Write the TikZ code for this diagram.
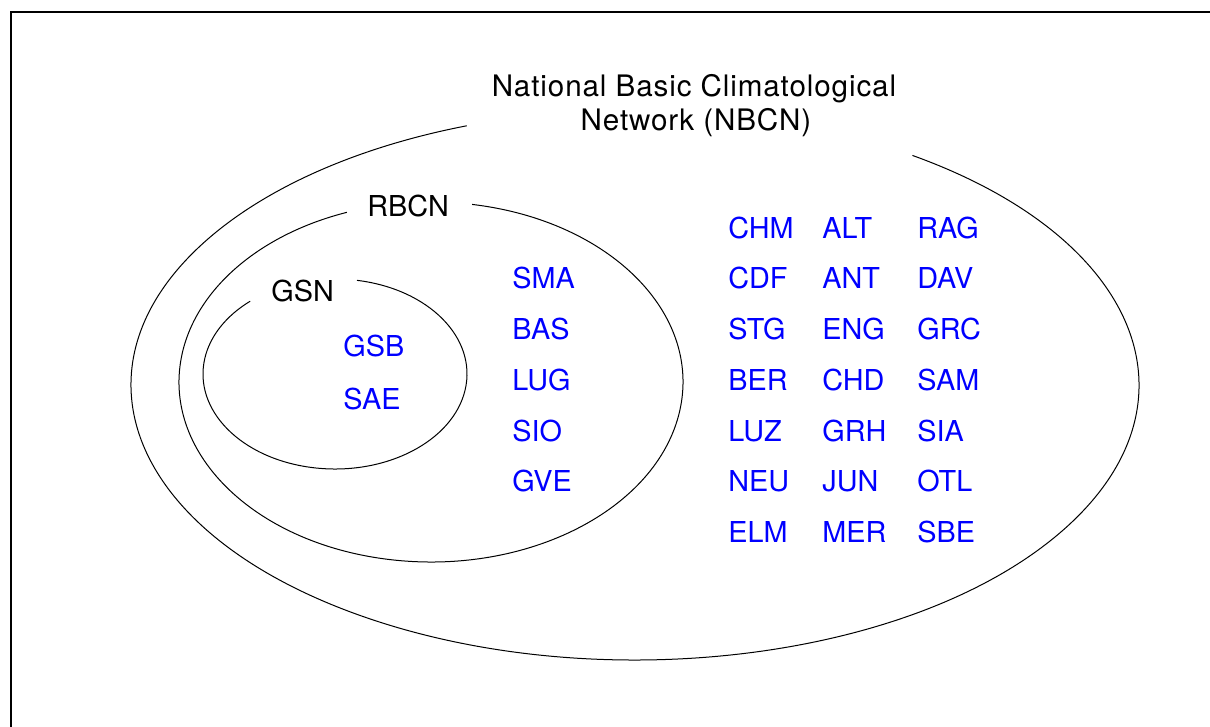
\documentclass[tikz,border=0pt]{standalone}
\usepackage{fontspec}
\setmainfont{TeX Gyre Heros}
\usetikzlibrary{positioning}
\tikzset{ring/.style={line width=0.5pt},
    netlabel/.style={anchor=base west,inner sep=0pt,font=\fontsize{14.4}{17}\selectfont},
    title/.style={anchor=base,inner sep=0pt,font=\fontsize{14.8}{17}\selectfont\addfontfeature{LetterSpace=3}},
    stn/.style={netlabel,text=blue}}

\begin{document}
\begin{tikzpicture}[x=0.5pt,y=-0.5pt]
\useasboundingbox (0,0) rectangle (1210,727);
\draw[line width=0.8pt] (11,727) -- (11,12) -- (1210,12);
% the three networks
\coordinate (nbcn) at (635,385);
\coordinate (rbcn) at (431,382);
\coordinate (gsn) at (335,374);
\draw[ring] (nbcn) ++(-56.6:504 and 275) arc[start angle=-56.6,end angle=250.5,x radius=504,y radius=275];
\draw[ring] (rbcn) ++(-80.6:252 and 180) arc[start angle=-80.6,end angle=250.5,x radius=252,y radius=180];
\draw[ring] (gsn) ++(-80.4:132 and 95) arc[start angle=-80.4,end angle=230,x radius=132,y radius=95];
\node[title] (title1) at (694,97) {National Basic Climatological};
\node[title] (title2) at (696,131) {Network (NBCN)};
\node[netlabel] (rbcn-lbl) at (367,217) {RBCN};
\node[netlabel] (gsn-lbl) at (271,301) {GSN};
% stations
\node[stn] (gsb) at (343,357) {GSB};
\node[stn] (sae) at (343,409) {SAE};
\foreach \s [count=\i] in {SMA,BAS,LUG,SIO,GVE}
    \node[stn] (r-\i) at (512,238.2+50.7*\i) {\s};
\foreach \s [count=\i] in {CHM,CDF,STG,BER,LUZ,NEU,ELM}
    \node[stn] (a-\i) at (728,187.5+50.7*\i) {\s};
\foreach \s [count=\i] in {ALT,ANT,ENG,CHD,GRH,JUN,MER}
    \node[stn] (b-\i) at (822,187.5+50.7*\i) {\s};
\foreach \s [count=\i] in {RAG,DAV,GRC,SAM,SIA,OTL,SBE}
    \node[stn] (c-\i) at (917,187.5+50.7*\i) {\s};
\end{tikzpicture}
\end{document}
